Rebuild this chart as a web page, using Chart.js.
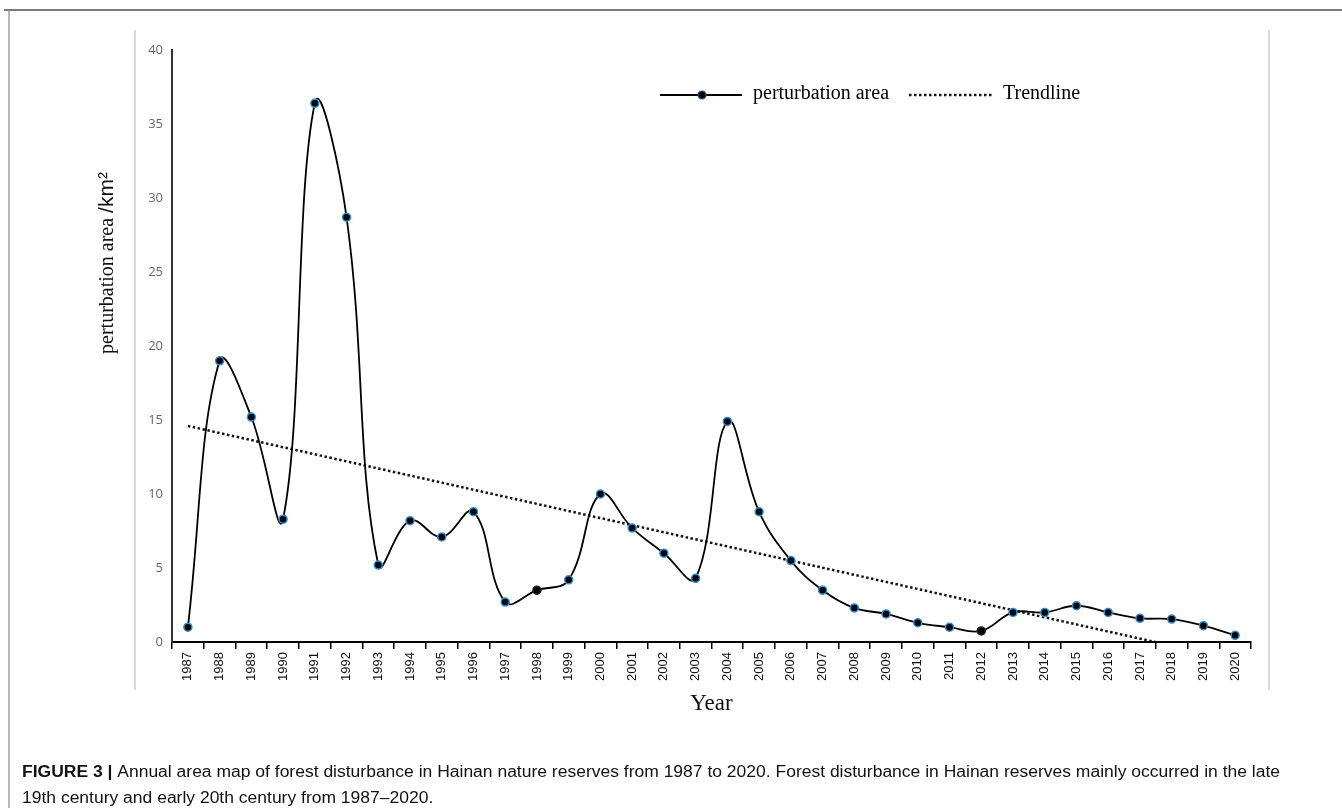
<!DOCTYPE html>
<html>
<head>
<meta charset="utf-8">
<script src="https://cdn.jsdelivr.net/npm/chart.js@4/dist/chart.umd.min.js"></script>
<style>
html,body{margin:0;padding:0;background:#fff;}
#wrap{position:relative;width:1342px;height:808px;}
</style>
</head>
<body>
<div id="wrap"><canvas id="c" width="1342" height="808"></canvas></div>
<script>
// ---- data ----
const years = ['1987','1988','1989','1990','1991','1992','1993','1994','1995','1996','1997','1998','1999','2000','2001','2002','2003','2004','2005','2006','2007','2008','2009','2010','2011','2012','2013','2014','2015','2016','2017','2018','2019','2020'];
const perturbationArea = [1.0,19.0,15.2,8.3,36.4,28.7,5.2,8.2,7.1,8.8,2.7,3.5,4.2,10.0,7.7,6.0,4.3,14.9,8.8,5.5,3.5,2.3,1.9,1.3,1.0,0.75,2.0,2.0,2.45,2.0,1.6,1.55,1.1,0.45];
const trendStart = 14.6;   // trendline value at 1987
const trendEnd = -0.25;    // trendline value at 2018 (clipped at 0)
const yTicks = [0,5,10,15,20,25,30,35,40];
const seriesNames = ['perturbation area','Trendline'];
const yTitleText = 'perturbation area ';
const yTitleUnit = '/km\u00b2';
const xTitleText = 'Year';
const captionBold = 'FIGURE 3 |';
const captionLine1 = ' Annual area map of forest disturbance in Hainan nature reserves from 1987 to 2020. Forest disturbance in Hainan reserves mainly occurred in the late';
const captionLine2 = '19th century and early 20th century from 1987\u20132020.';

const trendData = years.map((y,i)=> i===0 ? trendStart : (y==='2018' ? trendEnd : null));
const plainMarkers = ['1998','2012'];

const framePlugin = {
  id:'frame',
  beforeDraw(chart){
    const c = chart.ctx;
    c.save();
    c.fillStyle='#fff'; c.fillRect(0,0,chart.width,chart.height);
    c.strokeStyle='#d9d9d9'; c.lineWidth=2;
    c.beginPath(); c.moveTo(135,30); c.lineTo(135,690); c.moveTo(1269,30); c.lineTo(1269,690); c.stroke();
    c.strokeStyle='#7a7a7a'; c.lineWidth=2;
    c.beginPath(); c.moveTo(4,10); c.lineTo(1342,10); c.stroke();
    c.strokeStyle='#8a8a8a'; c.lineWidth=1.2;
    c.beginPath(); c.moveTo(9,10); c.lineTo(9,808); c.stroke();
    c.restore();
  },
  afterDraw(chart){
    const c = chart.ctx;
    c.save();
    // y axis title (rotated)
    const serif = '"Liberation Serif", "Times New Roman", serif';
    c.save();
    c.translate(108, 263);
    c.rotate(-Math.PI/2);
    c.font = '20px ' + serif;
    const wt = c.measureText(yTitleText).width;
    c.font = '21px "Liberation Sans", Arial, sans-serif';
    const wu = c.measureText(yTitleUnit).width;
    const x0 = -(wt+wu)/2;
    c.fillStyle='#111'; c.textBaseline='middle'; c.textAlign='left';
    c.font = '20px ' + serif;
    c.fillText(yTitleText, x0, 0);
    c.font = '21px "Liberation Sans", Arial, sans-serif';
    c.fillText(yTitleUnit, x0+wt, -1);
    c.restore();
    // legend
    const ds0 = chart.data.datasets[0], ds1 = chart.data.datasets[1];
    const ly = 95;
    c.strokeStyle = ds0.borderColor; c.lineWidth = 2;
    c.beginPath(); c.moveTo(660,ly); c.lineTo(742,ly); c.stroke();
    c.fillStyle='#000'; c.strokeStyle='#1f5f99'; c.lineWidth=1.2;
    c.beginPath(); c.arc(702,ly,4,0,Math.PI*2); c.fill(); c.stroke();
    c.fillStyle='#000'; c.font='20px ' + serif;
    c.textBaseline='middle'; c.textAlign='left';
    c.fillText(seriesNames[0], 753, ly-1);
    c.strokeStyle = ds1.borderColor; c.lineWidth = 2.5; c.setLineDash([2.5,2.5]);
    c.beginPath(); c.moveTo(909,ly); c.lineTo(992,ly); c.stroke();
    c.setLineDash([]);
    c.fillText(seriesNames[1], 1003, ly-1);
    // caption
    const fam = '"Liberation Sans Narrow", "Liberation Sans", Arial, sans-serif';
    c.font = 'bold 16px ' + fam;
    const wb = c.measureText(captionBold).width;
    c.font = '16px ' + fam;
    const w1 = c.measureText(captionLine1).width;
    const target = 1280 - 22;
    const sx = target/(wb+w1);
    c.textBaseline='alphabetic';
    c.translate(22,0); c.scale(sx,1);
    c.fillStyle='#111';
    c.font = 'bold 16px ' + fam;
    c.fillText(captionBold, 0, 777);
    c.font = '16px ' + fam;
    c.fillText(captionLine1, wb, 777);
    c.fillText(captionLine2, 0, 803);
    c.restore();
  }
};

new Chart(document.getElementById('c'), {
  type:'line',
  data:{
    labels: years,
    datasets:[
      {
        label: seriesNames[0],
        data: perturbationArea,
        borderColor:'#000',
        borderWidth:1.8,
        tension:0.4,
        pointRadius:4,
        pointBorderWidth:1.5,
        pointBackgroundColor:'#000',
        pointBorderColor:(ctx)=> plainMarkers.includes(years[ctx.dataIndex]) ? '#222' : '#2a8fd4',
        fill:false
      },
      {
        label: seriesNames[1],
        data: trendData,
        spanGaps:true,
        borderColor:'#111',
        borderWidth:2.5,
        borderDash:[2.5,2.5],
        pointRadius:0,
        tension:0,
        fill:false
      }
    ]
  },
  options:{
    responsive:false,
    animation:false,
    events:[],
    layout:{padding:{left:92,right:91,top:50,bottom:88}},
    plugins:{legend:{display:false},tooltip:{enabled:false},title:{display:false}},
    scales:{
      x:{
        type:'category',
        offset:true,
        afterFit(s){ s.height = 78; },
        grid:{display:true,drawOnChartArea:false,drawTicks:true,tickLength:7,color:'#000',lineWidth:1.5,offset:true},
        border:{display:true,color:'#000',width:2},
        ticks:{minRotation:90,maxRotation:90,autoSkip:false,color:'#111',padding:3,font:{family:'"Liberation Sans", Arial, sans-serif',size:13}},
        title:{display:true,text:xTitleText,color:'#111',padding:{top:0,bottom:2},font:{family:'"Liberation Serif", "Times New Roman", serif',size:23}}
      },
      y:{
        min:0,max:40,
        afterFit(s){ s.width = 80; },
        afterBuildTicks(s){ s.ticks = yTicks.map(v=>({value:v})); },
        grid:{display:false,drawTicks:false},
        border:{display:true,color:'#333',width:2},
        ticks:{color:'#666',padding:9,font:{family:'"Open Sans", sans-serif',size:13}},
        title:{display:false}
      }
    }
  },
  plugins:[framePlugin]
});
</script>
</body>
</html>
